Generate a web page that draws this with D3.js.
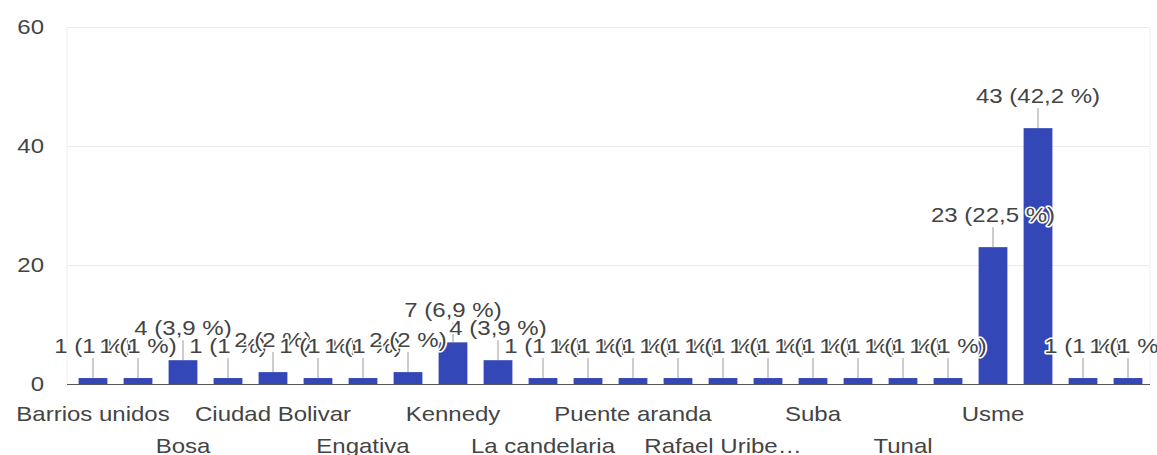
<!DOCTYPE html>
<html>
<head>
<meta charset="utf-8">
<script src="https://cdn.jsdelivr.net/npm/d3@7"></script>
<style>
  html, body { margin: 0; padding: 0; background: #ffffff; }
  svg { display: block; }
  text { font-family: "Liberation Sans", Arial, sans-serif; }
</style>
</head>
<body>
<svg id="chart" width="1157" height="455"></svg>
<script>
// ---- data ----
const categories = [
  "Barrios unidos", "Barrios Unidos", "Bosa", "Chapinero", "Ciudad Bolivar",
  "Ciudad bolivar", "Engativa", "Fontibon", "Kennedy", "Kennedy central",
  "La candelaria", "Los martires", "Puente aranda", "Puente Aranda",
  "Rafael Uribe Uribe", "San Cristobal", "Suba", "Teusaquillo", "Tunal",
  "Tunjuelito", "Usme", "Usme centro", "Yomasa", "usme"
];
const values = [1, 1, 4, 1, 2, 1, 1, 2, 7, 4, 1, 1, 1, 1, 1, 1, 1, 1, 1, 1, 23, 43, 1, 1];
const yTicks = [0, 20, 40, 60];
// category indices whose tick labels are shown (alternating rows)
const shownTickIdx = [0, 2, 4, 6, 8, 10, 12, 14, 16, 18, 20];

// ---- layout ----
const svg = d3.select("#chart");
const SX = 1.2;              // horizontal stretch of text in the reference
const FS = 20;
const left = 67, right = 1150;
const total = d3.sum(values);

const x = d3.scaleBand()
  .domain(d3.range(values.length))
  .range([70.5, 1150.5])
  .paddingInner(0.36)
  .paddingOuter(0.18);

const y = d3.scaleLinear().domain([0, 60]).range([384, 27]);

// faint plot border
svg.append("line").attr("x1", left).attr("x2", left).attr("y1", y(60)).attr("y2", y(0))
  .attr("stroke", "#f0f0f0").attr("stroke-width", 1);
svg.append("line").attr("x1", right).attr("x2", right).attr("y1", y(60)).attr("y2", y(0))
  .attr("stroke", "#f0f0f0").attr("stroke-width", 1);

// gridlines
svg.append("g").selectAll("line")
  .data(yTicks.filter(d => d !== 0))
  .join("line")
  .attr("x1", left).attr("x2", right)
  .attr("y1", d => Math.round(y(d)) + 0.5).attr("y2", d => Math.round(y(d)) + 0.5)
  .attr("stroke", "#ebebeb").attr("stroke-width", 1);

// y tick labels
svg.append("g").selectAll("text")
  .data(yTicks)
  .join("text")
  .attr("transform", d => `translate(44,${y(d) + 7}) scale(${SX},1)`)
  .attr("text-anchor", "end")
  .attr("font-size", FS)
  .attr("fill", "#444")
  .text(d => d);

// bars
svg.append("g").selectAll("rect")
  .data(values)
  .join("rect")
  .attr("x", (d, i) => x(i))
  .attr("width", x.bandwidth())
  .attr("y", d => y(d))
  .attr("height", d => y(0) - y(d))
  .attr("fill", "#3447b6");

// baseline
svg.append("line").attr("x1", left).attr("x2", right)
  .attr("y1", y(0) + 0.5).attr("y2", y(0) + 0.5)
  .attr("stroke", "#555").attr("stroke-width", 1.2);

// annotation stems
const cx = i => x(i) + x.bandwidth() / 2;
svg.append("g").selectAll("line")
  .data(values)
  .join("line")
  .attr("x1", (d, i) => cx(i)).attr("x2", (d, i) => cx(i))
  .attr("y1", d => y(d)).attr("y2", d => y(d) - 20)
  .attr("stroke", "#999").attr("stroke-width", 1);

// annotation labels
const pct = v => {
  const p = Math.round(v / total * 1000) / 10;
  return String(p).replace(".", ",");
};
svg.append("g").selectAll("text")
  .data(values)
  .join("text")
  .attr("transform", (d, i) => `translate(${cx(i)},${y(d) - 25}) scale(${SX},1)`)
  .attr("text-anchor", "middle")
  .attr("font-size", FS)
  .attr("fill", "#444")
  .attr("stroke", "#ffffff")
  .attr("stroke-width", 3)
  .attr("paint-order", "stroke")
  .attr("stroke-linejoin", "round")
  .text(d => `${d} (${pct(d)} %)`);

// x tick labels, alternating rows
const shortLabel = s => s.length > 14 ? s.slice(0, 12) + "…" : s;
svg.append("g").selectAll("text")
  .data(shownTickIdx)
  .join("text")
  .attr("transform", (d, k) => `translate(${cx(d)},${k % 2 === 0 ? 421 : 453}) scale(${SX},1)`)
  .attr("text-anchor", "middle")
  .attr("font-size", FS)
  .attr("fill", "#444")
  .text(d => shortLabel(categories[d]));
</script>
</body>
</html>
